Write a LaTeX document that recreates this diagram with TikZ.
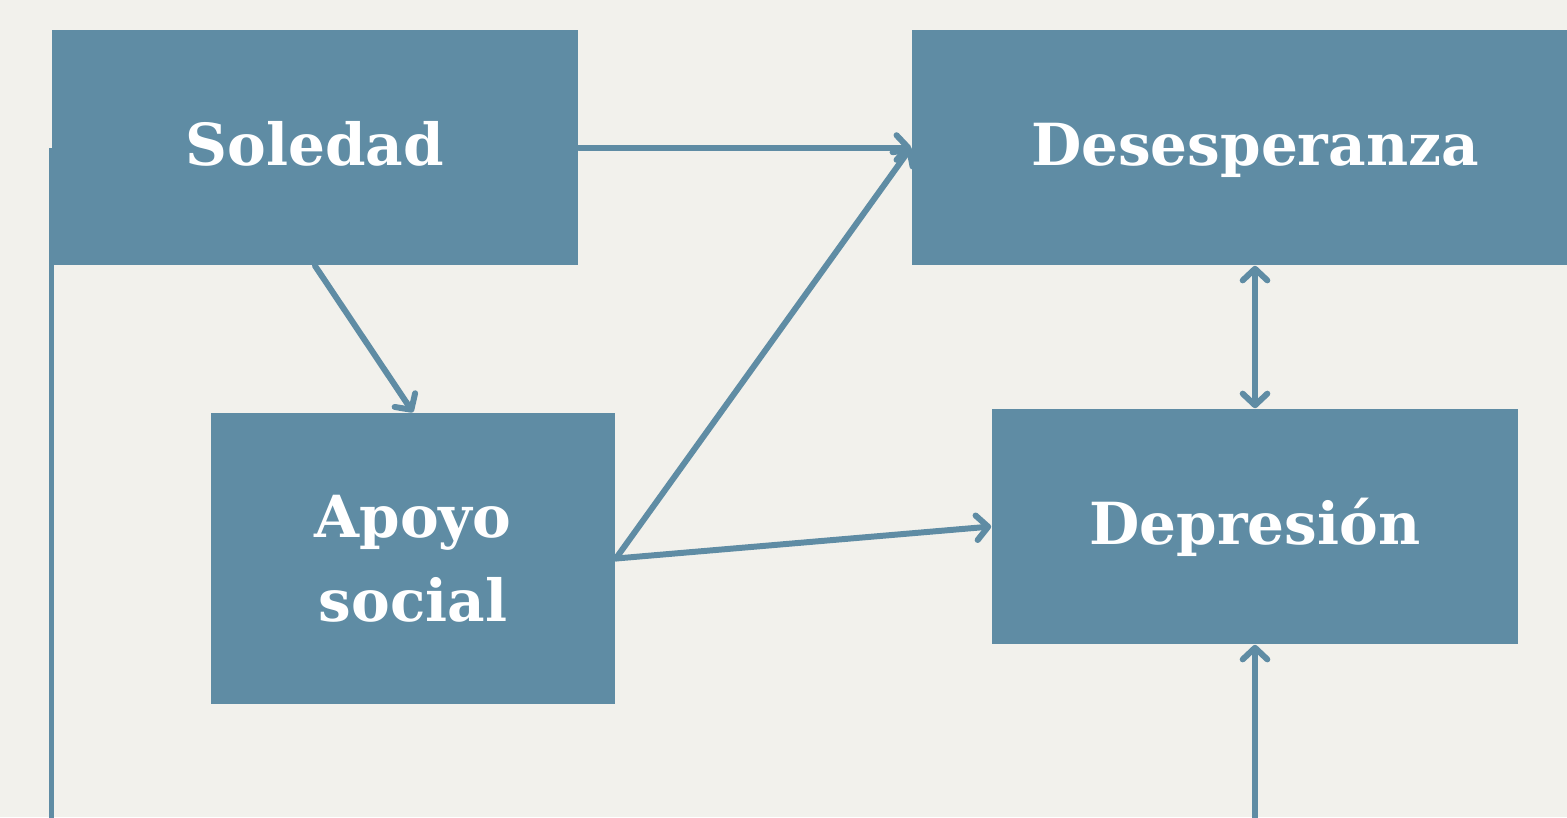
\documentclass[tikz,border=0pt]{standalone}
\usepackage{fontspec}
\setmainfont{DejaVu Serif}
\usetikzlibrary{arrows.meta}
\definecolor{boxblue}{HTML}{5F8CA4}
\definecolor{paper}{HTML}{F2F1EC}
\begin{document}
\begin{tikzpicture}[x=0.01cm, y=-0.01cm,
  every text node part/.style={align=center},
  box/.style={fill=boxblue, text=white, inner sep=0pt, font=\bfseries\fontsize{16.5}{24}\selectfont},
  oneline/.style={text height=0.43cm, text depth=0.07cm},
  barb/.tip={Straight Barb[round, length=3.3pt, width=7pt]},
  link/.style={boxblue, line width=1.7pt, line cap=round, -barb}]
  \fill[paper] (0,0) rectangle (1567,817);
  \useasboundingbox (0,0) rectangle (1567,817);
  \clip (0,0) rectangle (1567,817);

  \node[box, oneline, minimum width=5.26cm, minimum height=2.35cm] (0) at (315,147.5) {Soledad};
  \node[box, minimum width=4.04cm, minimum height=2.91cm] (1) at (413,558.5) {Apoyo\\social};
  \node[box, oneline, minimum width=6.86cm, minimum height=2.35cm] (2) at (1255,147.5) {Desesperanza};
  \node[box, oneline, minimum width=5.26cm, minimum height=2.35cm] (3) at (1255,526.5) {Depresión};
  \coordinate (4) at (1255,830);
  \coordinate (5) at (51.5,830);

  \draw[link] (0.east) -- (2.west);
  \draw[link] (0.south) -- (1.north);
  \draw[link] (1.east) -- (2.west);
  \draw[link] (1.east) -- (3.west);
  \draw[link, barb-barb] (2.south) -- (3.north);
  \draw[link] (4) -- (3.south);
  \draw[boxblue, line width=1.7pt] (51.5,147.5) -- (5);
\end{tikzpicture}
\end{document}
